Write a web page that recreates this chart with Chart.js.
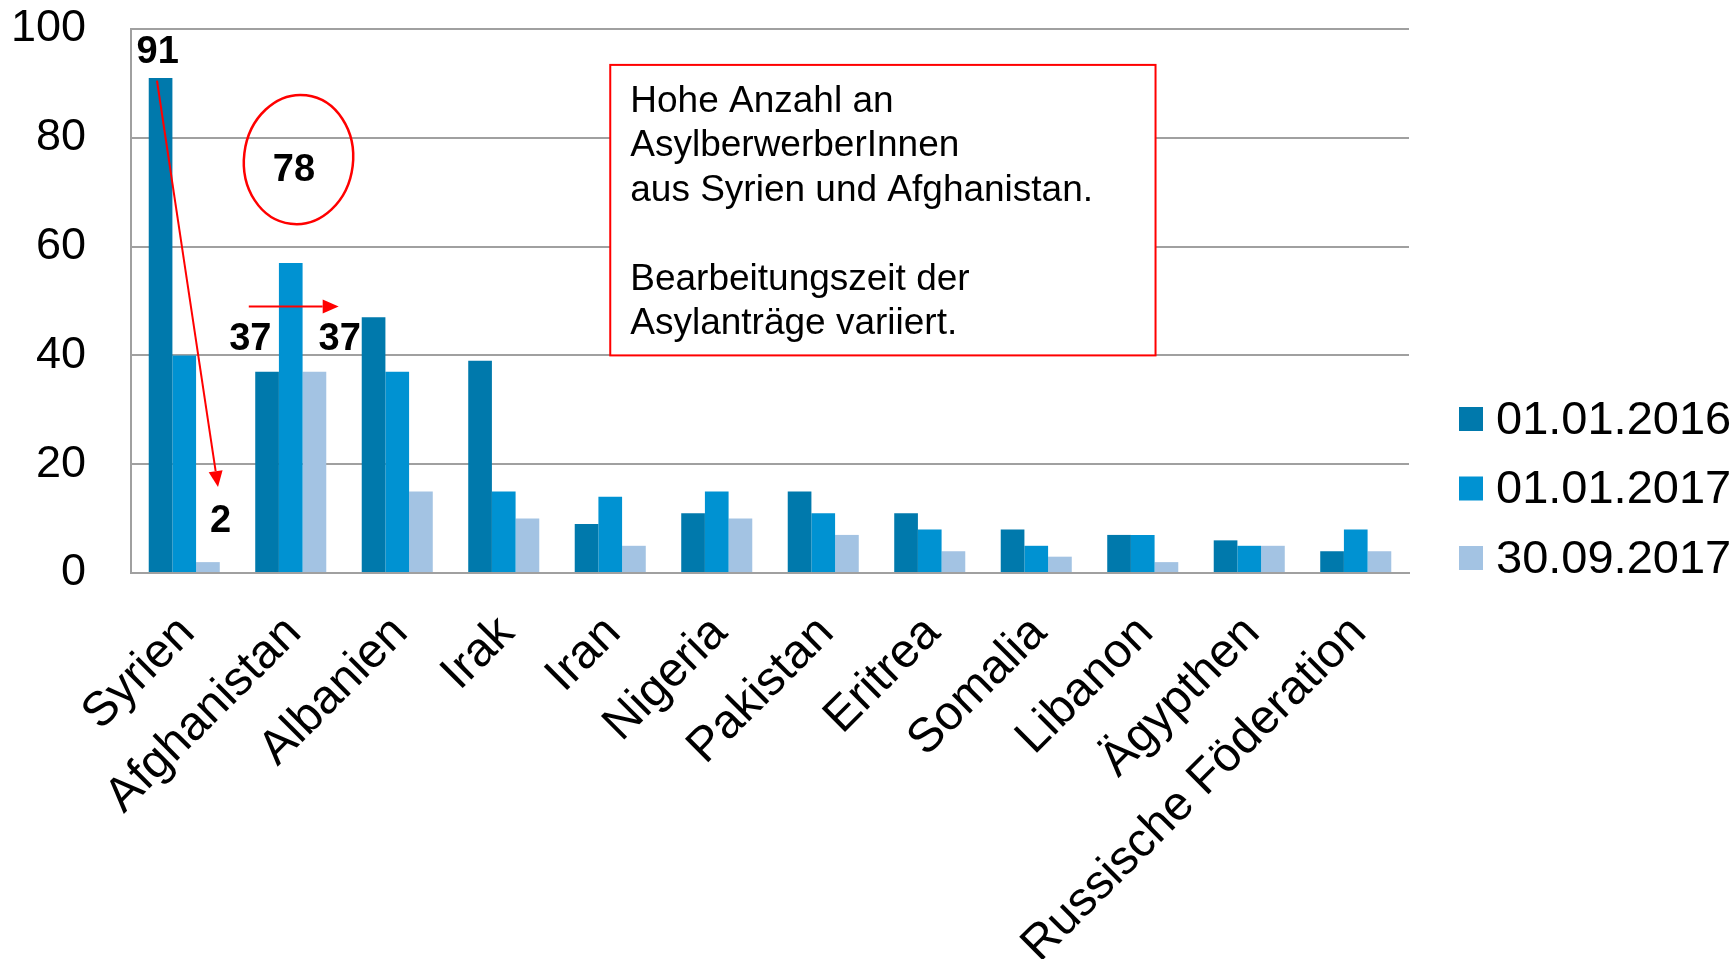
<!DOCTYPE html>
<html>
<head>
<meta charset="utf-8">
<script src="https://cdn.jsdelivr.net/npm/chart.js@4.4.1/dist/chart.umd.min.js"></script>
<style>
  html, body { margin: 0; padding: 0; background: #fff; }
  #wrap { width: 1736px; height: 959px; position: relative; }
</style>
</head>
<body>
<div id="wrap"><canvas id="asylChart"></canvas></div>
<script>
const countries = ["Syrien", "Afghanistan", "Albanien", "Irak", "Iran", "Nigeria",
  "Pakistan", "Eritrea", "Somalia", "Libanon", "Ägypthen", "Russische Föderation"];
const seriesLabels = ["01.01.2016", "01.01.2017", "30.09.2017"];
const values2016 = [91, 37, 47, 39, 9, 11, 15, 11, 8, 7, 6, 4];
const values2017 = [40, 57, 37, 15, 14, 15, 11, 8, 5, 7, 5, 8];
const valuesSep2017 = [2, 37, 15, 10, 5, 10, 7, 4, 3, 2, 5, 4];
const yTicks = [0, 20, 40, 60, 80, 100];
const seriesColors = ["#0079ac", "#0092d2", "#a3c3e3"];

// annotations, placed in data units (x = category index, y = value)
const boldNotes = [
  { text: "91", x: -0.25, y: 95.6 },
  { text: "2", x: 0.34, y: 9.4 },
  { text: "78", x: 1.03, y: 73.9 },
  { text: "37", x: 0.62, y: 42.9 },
  { text: "37", x: 1.46, y: 42.9 },
];
const arrows = [
  { from: [-0.256, 90.5], to: [0.317, 15.8] },
  { from: [0.606, 49], to: [1.45, 49] },
];
const ring = { x: 1.073, y: 76, rx: 0.512, ry: 11.9 };
const noteBox = { x1: 4.0, x2: 9.12, yTop: 93.4, yBottom: 40 };
const noteLines = ["Hohe Anzahl an", "AsylberwerberInnen", "aus Syrien und Afghanistan.", "",
  "Bearbeitungszeit der", "Asylanträge variiert."];

const FONT = "'Liberation Sans', Arial, sans-serif";
const RED = "#ff0000";

const annotationPlugin = {
  id: "notes",
  afterDatasetsDraw(chart) {
    const ctx = chart.ctx;
    const xs = chart.scales.x;
    const ys = chart.scales.y;
    const px = (v) => xs.getPixelForValue(v);
    const py = (v) => ys.getPixelForValue(v);
    ctx.save();

    // arrows
    ctx.strokeStyle = RED;
    ctx.fillStyle = RED;
    ctx.lineWidth = 2;
    arrows.forEach((a) => {
      const x0 = px(a.from[0]), y0 = py(a.from[1]);
      const x1 = px(a.to[0]), y1 = py(a.to[1]);
      const ang = Math.atan2(y1 - y0, x1 - x0);
      const head = 16, half = 7;
      const bx = x1 - head * Math.cos(ang), by = y1 - head * Math.sin(ang);
      ctx.beginPath();
      ctx.moveTo(x0, y0);
      ctx.lineTo(bx, by);
      ctx.stroke();
      ctx.beginPath();
      ctx.moveTo(x1, y1);
      ctx.lineTo(bx + half * Math.sin(ang), by - half * Math.cos(ang));
      ctx.lineTo(bx - half * Math.sin(ang), by + half * Math.cos(ang));
      ctx.closePath();
      ctx.fill();
    });

    // ring round 78
    const cx = px(ring.x), cy = py(ring.y);
    const rx = px(ring.x + ring.rx) - cx;
    const ry = cy - py(ring.y + ring.ry);
    ctx.lineWidth = 2.5;
    ctx.beginPath();
    ctx.ellipse(cx, cy, rx, ry, 0.12, 0, Math.PI * 2);
    ctx.stroke();

    // bold numbers
    ctx.fillStyle = "#000";
    ctx.font = "bold 38px " + FONT;
    ctx.textAlign = "center";
    ctx.textBaseline = "middle";
    boldNotes.forEach((n) => ctx.fillText(n.text, px(n.x), py(n.y)));

    // text box
    const bx1 = px(noteBox.x1), bx2 = px(noteBox.x2);
    const by1 = py(noteBox.yTop), by2 = py(noteBox.yBottom);
    ctx.fillStyle = "#fff";
    ctx.fillRect(bx1, by1, bx2 - bx1, by2 - by1);
    ctx.strokeStyle = RED;
    ctx.lineWidth = 2;
    ctx.strokeRect(bx1, by1, bx2 - bx1, by2 - by1);
    ctx.fillStyle = "#000";
    ctx.font = "37px " + FONT;
    ctx.textAlign = "left";
    ctx.textBaseline = "alphabetic";
    noteLines.forEach((line, i) => ctx.fillText(line, bx1 + 20, by1 + 47 + i * 44.5));

    ctx.restore();
  },
  afterDraw(chart) {
    // legend on the right
    const ctx = chart.ctx;
    const area = chart.chartArea;
    const n = chart.data.datasets.length;
    ctx.save();
    ctx.font = "47px " + FONT;
    ctx.textAlign = "left";
    ctx.textBaseline = "middle";
    chart.data.datasets.forEach((ds, i) => {
      const yc = area.bottom - 15 - (n - 1 - i) * 69.5;
      ctx.fillStyle = ds.backgroundColor;
      ctx.fillRect(area.right + 50, yc - 12, 24, 24);
      ctx.fillStyle = "#000";
      ctx.fillText(ds.label, area.right + 87, yc + 2);
    });
    ctx.restore();
  },
};

const ctx = document.getElementById("asylChart").getContext("2d");

new Chart(ctx, {
  type: "bar",
  data: {
    labels: countries,
    datasets: [values2016, values2017, valuesSep2017].map((vals, i) => ({
      label: seriesLabels[i],
      data: vals,
      backgroundColor: seriesColors[i],
      borderWidth: 0,
      categoryPercentage: 0.667,
      barPercentage: 1.0,
    })),
  },
  options: {
    responsive: true,
    maintainAspectRatio: false,
    animation: false,
    layout: {
      padding: { top: 29, right: 327, left: 0, bottom: 0 },
    },
    plugins: {
      legend: { display: false },
      tooltip: { enabled: false },
    },
    scales: {
      x: {
        grid: { display: false },
        border: { display: true, color: "#a0a0a0", width: 2 },
        ticks: {
          color: "#000",
          font: { family: FONT, size: 48 },
          minRotation: 45,
          maxRotation: 45,
          autoSkip: false,
          padding: 24,
          labelOffset: 3,
        },
        afterFit(scale) {
          scale.height = 386;
          scale.paddingLeft = 0;
          scale.paddingRight = 0;
          scale.paddingTop = 0;
          scale.paddingBottom = 0;
        },
      },
      y: {
        min: 0,
        max: 100,
        grid: { color: "#a0a0a0", lineWidth: 2, drawTicks: false },
        border: { display: true, color: "#a0a0a0", width: 2 },
        ticks: {
          color: "#000",
          font: { family: FONT, size: 45 },
          padding: 45,
        },
        afterBuildTicks(scale) {
          scale.ticks = yTicks.map((v) => ({ value: v }));
        },
        afterFit(scale) {
          scale.width = 131;
          scale.paddingTop = 0;
          scale.paddingBottom = 0;
          scale.paddingLeft = 0;
          scale.paddingRight = 0;
        },
      },
    },
  },
  plugins: [annotationPlugin],
});
</script>
</body>
</html>
